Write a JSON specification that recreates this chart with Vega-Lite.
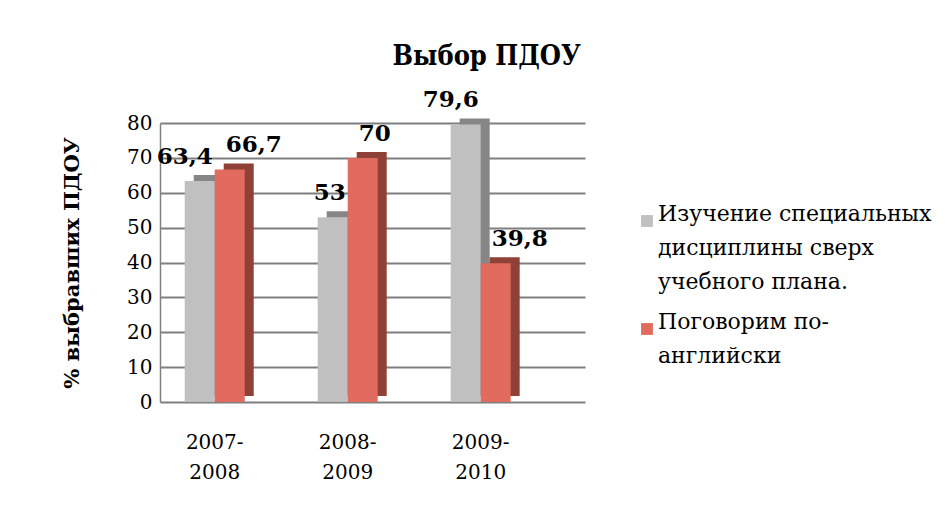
{
  "$schema": "https://vega.github.io/schema/vega-lite/v6.json",
  "width": 425,
  "height": 279,
  "autosize": {"type": "none"},
  "padding": {"left": 160, "top": 123, "right": 367, "bottom": 118},
  "background": "white",
  "title": {
    "text": "Выбор ПДОУ",
    "font": "DejaVu Serif Condensed",
    "fontSize": 27,
    "fontWeight": "bold",
    "color": "black",
    "anchor": "start",
    "dx": 331,
    "offset": 18
  },
  "data": {
    "values": [
      {"year": "2007-2008", "series": "Изучение специальных дисциплины сверх учебного плана.", "value": 63.4, "label": "63,4"},
      {"year": "2007-2008", "series": "Поговорим по-английски", "value": 66.7, "label": "66,7"},
      {"year": "2008-2009", "series": "Изучение специальных дисциплины сверх учебного плана.", "value": 53, "label": "53"},
      {"year": "2008-2009", "series": "Поговорим по-английски", "value": 70, "label": "70"},
      {"year": "2009-2010", "series": "Изучение специальных дисциплины сверх учебного плана.", "value": 79.6, "label": "79,6"},
      {"year": "2009-2010", "series": "Поговорим по-английски", "value": 39.8, "label": "39,8"}
    ]
  },
  "encoding": {
    "x": {
      "field": "year", "type": "nominal",
      "scale": {"paddingInner": 0.55, "paddingOuter": 0.373, "align": 0.25},
      "axis": {
        "title": null,
        "labelAngle": 0,
        "labelExpr": "[split(datum.label, '-')[0] + '-', split(datum.label, '-')[1]]",
        "labelFont": "DejaVu Serif",
        "labelFontSize": 20,
        "labelColor": "black",
        "labelLineHeight": 30,
        "labelPadding": 30,
        "ticks": false,
        "domain": false
      }
    },
    "y": {
      "field": "value", "type": "quantitative",
      "scale": {"domain": [0, 80]},
      "axis": {
        "title": "% выбравших ПДОУ",
        "titleFont": "DejaVu Serif",
        "titleFontSize": 21,
        "titleFontWeight": "bold",
        "titleColor": "black",
        "titlePadding": 44,
        "values": [0, 10, 20, 30, 40, 50, 60, 70, 80],
        "labelFont": "DejaVu Serif",
        "labelFontSize": 20,
        "labelColor": "black",
        "labelPadding": 8,
        "ticks": false,
        "domainColor": "#808080",
        "domainWidth": 1.5,
        "grid": true,
        "gridColor": "#7f7f7f",
        "gridWidth": 2
      }
    }
  },
  "layer": [
    {
      "transform": [{"filter": "datum.series != 'Поговорим по-английски'"}],
      "mark": {"type": "bar", "width": 30, "xOffset": -6, "yOffset": -6, "color": "#868686"},
      "encoding": {}
    },
    {
      "transform": [{"filter": "datum.series == 'Поговорим по-английски'"}],
      "mark": {"type": "bar", "width": 30, "xOffset": 24, "yOffset": -6, "color": "#8f4037"},
      "encoding": {}
    },
    {
      "transform": [{"filter": "datum.series != 'Поговорим по-английски'"}],
      "mark": {"type": "bar", "width": 30, "xOffset": -15},
      "encoding": {
        "color": {
          "field": "series", "type": "nominal", "sort": null,
          "scale": {
            "domain": ["Изучение специальных дисциплины сверх учебного плана.", "Поговорим по-английски"],
            "range": ["#c0c0c0", "#e06b5e"]
          },
          "legend": {
            "title": null,
            "orient": "none",
            "legendX": 476,
            "legendY": 87,
            "symbolType": "square",
            "symbolSize": 140,
            "symbolStrokeWidth": 0,
            "labelFont": "DejaVu Serif",
            "labelFontSize": 22,
            "labelColor": "black",
            "labelLimit": 400,
            "labelBaseline": "alphabetic",
            "labelOffset": 0,
            "rowPadding": 18,
            "labelExpr": "datum.label == 'Поговорим по-английски' ? ['Поговорим по-', 'английски'] : ['Изучение специальных', 'дисциплины сверх', 'учебного плана.']",
            "encoding": {
              "labels": {"lineHeight": {"value": 34}}
            }
          }
        }
      }
    },
    {
      "transform": [{"filter": "datum.series == 'Поговорим по-английски'"}],
      "mark": {"type": "bar", "width": 30, "xOffset": 15},
      "encoding": {
        "color": {"field": "series", "type": "nominal", "sort": null}
      }
    },
    {
      "transform": [{"filter": "datum.series == 'Поговорим по-английски'"}],
      "mark": {"type": "text", "align": "left", "baseline": "alphabetic", "dx": 11, "dy": -17, "font": "DejaVu Serif", "fontSize": 23, "fontWeight": "bold", "color": "black"},
      "encoding": {"text": {"field": "label"}}
    },
    {
      "transform": [{"filter": "datum.series != 'Поговорим по-английски'"}],
      "mark": {"type": "text", "align": "right", "baseline": "alphabetic", "dx": -2, "dy": -17, "font": "DejaVu Serif", "fontSize": 23, "fontWeight": "bold", "color": "black"},
      "encoding": {"text": {"field": "label"}}
    }
  ],
  "config": {"view": {"stroke": null}}
}
